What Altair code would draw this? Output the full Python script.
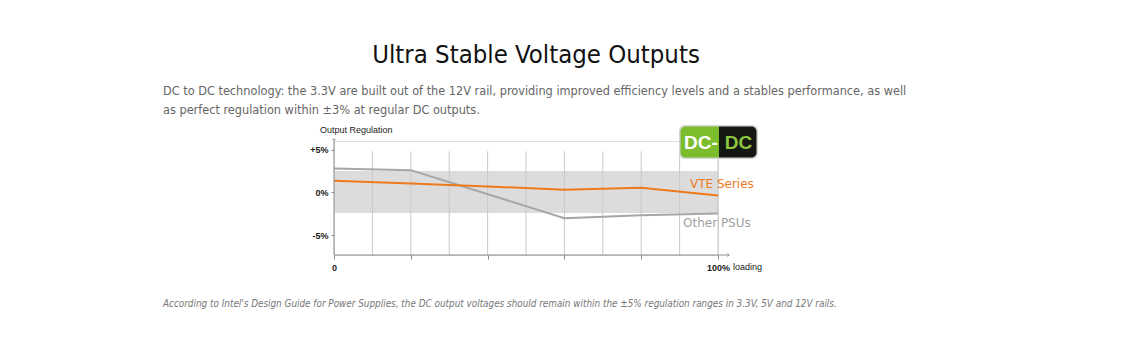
import altair as alt
import pandas as pd

# ---- data ----
loading = [0, 20, 40, 60, 80, 100]
vte_series = [1.35, 1.05, 0.7, 0.3, 0.55, -0.35]
other_loading = [0, 20, 60, 80, 100]
other_psus = [2.8, 2.6, -3.0, -2.65, -2.45]
grid_x = [10, 20, 30, 40, 50, 60, 70, 80, 90, 100]
band_low, band_high = -2.4, 2.5
y_min, y_max = -7.3, 6.0

title_text = "Ultra Stable Voltage Outputs"
para_lines = [
    "DC to DC technology: the 3.3V are built out of the 12V rail, providing improved efficiency levels and a stables performance, as well",
    "as perfect regulation within \u00b13% at regular DC outputs.",
]
footer_text = ("According to Intel's Design Guide for Power Supplies, the DC output voltages should remain "
               "within the \u00b15% regulation ranges in 3.3V, 5V and 12V rails.")

ORANGE = "#ec7a1c"
GRAY_LINE = "#a6a6a6"
AXIS = "#8a8a8a"
FONT = "Liberation Sans"
PAGE_FONT = "Liberation Sans Narrow, DejaVu Sans Condensed, Roboto"

xs = alt.Scale(domain=[0, 100], nice=False, zero=False)
ys = alt.Scale(domain=[y_min, y_max], nice=False, zero=False)

df_vte = pd.DataFrame({"x": loading, "y": vte_series})
df_oth = pd.DataFrame({"x": other_loading, "y": other_psus})
df_grid = pd.DataFrame({"x": grid_x, "y": [y_min] * len(grid_x), "y2": [4.8] * len(grid_x)})
df_band = pd.DataFrame({"x": [0], "x2": [100], "y": [band_low], "y2": [band_high]})
one = pd.DataFrame({"a": [0]})

band = alt.Chart(df_band).mark_rect(color="#dcdcdc").encode(
    x=alt.X("x:Q", scale=xs, axis=alt.Axis(
        values=list(range(0, 101, 10)), grid=False, domain=False,
        labelExpr="datum.value == 0 ? '0' : datum.value == 100 ? '100%' : ''",
        tickColor=AXIS, tickSize=4, labelFont=FONT, labelFontSize=9, labelColor="#222",
        labelFontWeight="bold", labelPadding=4, title=None, labelFlush=False)),
    x2="x2:Q",
    y=alt.Y("y:Q", scale=ys, axis=alt.Axis(
        values=[-5, -2.5, 0, 2.5, 5], grid=False, domain=False,
        labelExpr="datum.value == 5 ? '+5%' : datum.value == 0 ? '0%' : datum.value == -5 ? '-5%' : ''",
        tickColor=AXIS, tickSize=3, labelFont=FONT, labelFontSize=9, labelColor="#222",
        labelFontWeight="bold", labelPadding=3, title=None)),
    y2="y2:Q",
)

grid = alt.Chart(df_grid).mark_rule(color="#c9c9c9", strokeWidth=1).encode(
    x=alt.X("x:Q", scale=xs), y=alt.Y("y:Q", scale=ys), y2="y2:Q")

oth = alt.Chart(df_oth).mark_line(color=GRAY_LINE, strokeWidth=2).encode(
    x=alt.X("x:Q", scale=xs), y=alt.Y("y:Q", scale=ys))
vte = alt.Chart(df_vte).mark_line(color=ORANGE, strokeWidth=2).encode(
    x=alt.X("x:Q", scale=xs), y=alt.Y("y:Q", scale=ys))

# axes lines with arrows
yaxis = alt.Chart(one).mark_rule(color=AXIS, strokeWidth=1).encode(
    x=alt.datum(0, scale=xs), y=alt.datum(y_min, scale=ys), y2=alt.datum(6.25))
xaxis = alt.Chart(one).mark_rule(color=AXIS, strokeWidth=1).encode(
    y=alt.datum(y_min, scale=ys), x=alt.datum(0, scale=xs), x2=alt.datum(103))
arrow_up = alt.Chart(one).mark_point(shape="M-1,0.6L0,-0.4L1,0.6", filled=False, color=AXIS,
                                     size=12, strokeWidth=1).encode(
    x=alt.datum(0, scale=xs), y=alt.datum(6.2, scale=ys))
arrow_right = alt.Chart(one).mark_point(shape="M-0.6,-1L0.4,0L-0.6,1", filled=False, color=AXIS,
                                        size=12, strokeWidth=1).encode(
    x=alt.datum(102.7, scale=xs), y=alt.datum(y_min, scale=ys))


def txt(text, x, y, **kw):
    return alt.Chart(pd.DataFrame({"t": [text]})).mark_text(**kw).encode(
        text="t:N", x=alt.value(x), y=alt.value(y))


labels = [
    txt("Output Regulation", -14, -11, align="left", baseline="middle", font=FONT, fontSize=9, color="#222"),
    txt("loading", 399, 126, align="left", baseline="middle", font=FONT, fontSize=9, color="#222"),
    txt("VTE Series", 356, 43, align="left", baseline="middle", font="DejaVu Sans", fontSize=12, color=ORANGE),
    txt("Other PSUs", 349, 82, align="left", baseline="middle", font="DejaVu Sans", fontSize=12, color="#a0a0a0"),
    txt(title_text, 202, -86, align="center", baseline="middle", font=PAGE_FONT, fontSize=25.5, color="#111"),
    txt(para_lines[0], -171, -50, align="left", baseline="middle", font=PAGE_FONT, fontSize=12.6, color="#666"),
    txt(para_lines[1], -171, -31, align="left", baseline="middle", font=PAGE_FONT, fontSize=12.6, color="#666"),
    txt(footer_text, -171, 163, align="left", baseline="middle", font=PAGE_FONT, fontSize=9.85,
        fontStyle="italic", color="#777"),
]

# DC-DC logo
logo_border = alt.Chart(one).mark_rect(color="#d4d4d4", cornerRadius=6).encode(
    x=alt.value(345), x2=alt.value(424), y=alt.value(-16), y2=alt.value(18))
logo_green = alt.Chart(one).mark_rect(color="#7cbd2e", cornerRadiusTopLeft=5, cornerRadiusBottomLeft=5).encode(
    x=alt.value(346.5), x2=alt.value(385), y=alt.value(-14.5), y2=alt.value(16.5))
logo_black = alt.Chart(one).mark_rect(color="#151812", cornerRadiusTopRight=5, cornerRadiusBottomRight=5).encode(
    x=alt.value(385), x2=alt.value(422.5), y=alt.value(-14.5), y2=alt.value(16.5))
logo_t1 = txt("DC-", 367, 1.5, align="center", baseline="middle", font=FONT, fontSize=19,
              fontWeight="bold", color="#ffffff")
logo_t2 = txt("DC", 404.5, 1.5, align="center", baseline="middle", font=FONT, fontSize=19,
              fontWeight="bold", color="#8cc63f")

chart = alt.layer(
    band, grid, oth, vte, yaxis, xaxis, arrow_up, arrow_right,
    logo_border, logo_green, logo_black, logo_t1, logo_t2, *labels
).properties(
    width=384, height=114,
    padding={"left": 334, "top": 141, "right": 419, "bottom": 98},
    autosize=alt.AutoSizeParams(type="none"),
).configure_view(stroke=None).configure(background="#ffffff")

chart.save("out.html", embed_options={"renderer": "svg", "actions": False})
